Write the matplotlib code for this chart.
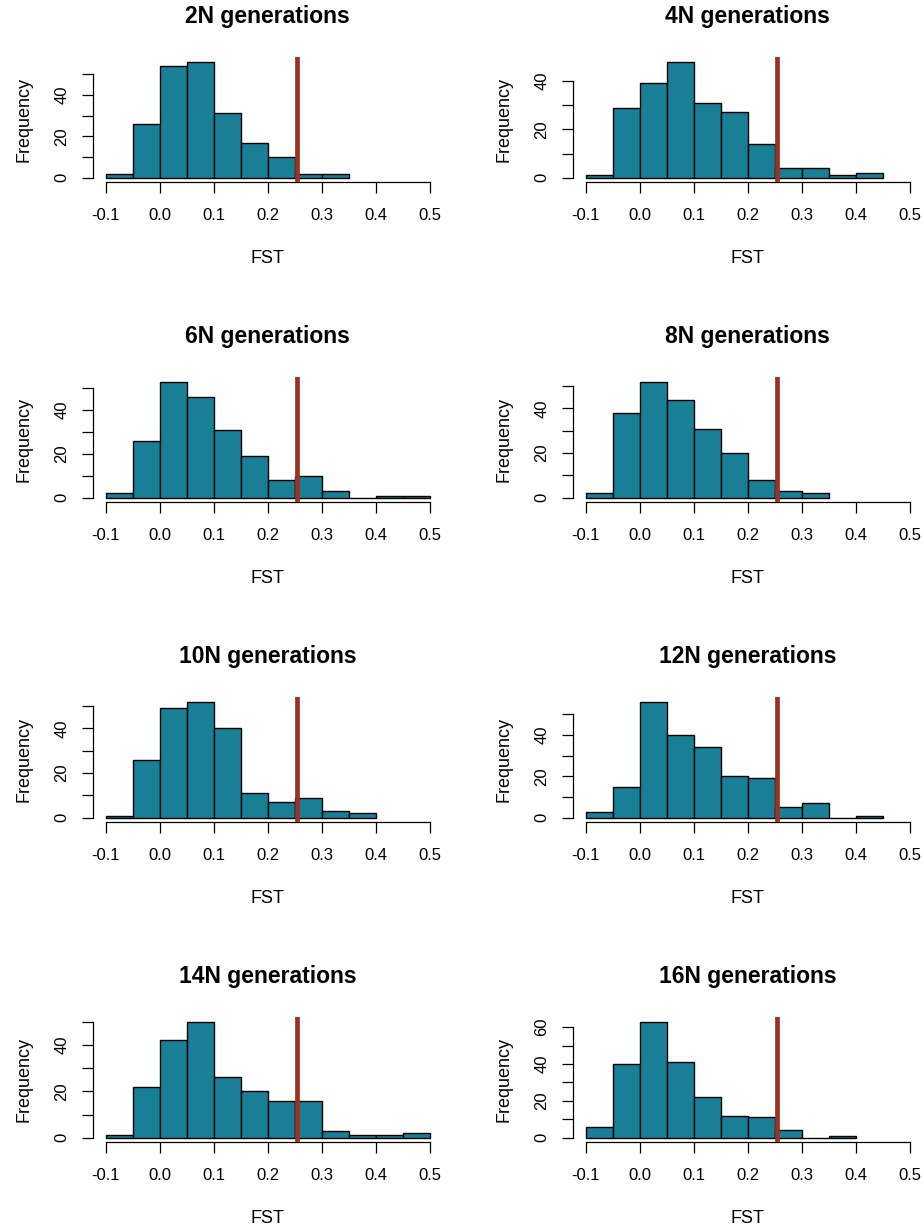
import matplotlib
matplotlib.use("Agg")
import matplotlib.pyplot as plt
import numpy as np
from matplotlib.ticker import MultipleLocator, FuncFormatter

plt.rcParams['font.family'] = ['Liberation Sans', 'DejaVu Sans']

# Histogram counts per panel, bins of width 0.05 starting at -0.1
titles = ["2N generations", "4N generations", "6N generations", "8N generations",
          "10N generations", "12N generations", "14N generations", "16N generations"]
counts_2N = [2, 26, 54, 56, 31, 17, 10, 2, 2]
counts_4N = [1, 29, 39, 48, 31, 27, 14, 4, 4, 1, 2]
counts_6N = [2, 26, 53, 46, 31, 19, 8, 10, 3, 0, 1, 1]
counts_8N = [2, 38, 52, 44, 31, 20, 8, 3, 2]
counts_10N = [1, 26, 49, 52, 40, 11, 7, 9, 3, 2]
counts_12N = [3, 15, 56, 40, 34, 20, 19, 5, 7, 0, 1]
counts_14N = [1, 22, 42, 50, 26, 20, 16, 16, 3, 1, 1, 2]
counts_16N = [6, 40, 63, 41, 22, 12, 11, 4, 0, 1]
all_counts = [counts_2N, counts_4N, counts_6N, counts_8N,
              counts_10N, counts_12N, counts_14N, counts_16N]

bin_start = -0.1
bin_width = 0.05
x_ticks = [-0.1, 0.0, 0.1, 0.2, 0.3, 0.4, 0.5]
observed_fst = 0.255

bar_color = "#187F97"
line_color = "#9A3324"

W, H = 924, 1230
fig = plt.figure(figsize=(W / 100, H / 100), dpi=100)

col_left = [92.7, 572.7]
ax_w = 349.8
row_top0 = 57.0
row_step = 320.0
ax_h = 125.4

for i, (title, counts) in enumerate(zip(titles, all_counts)):
    r, c = divmod(i, 2)
    left = col_left[c]
    top = row_top0 + r * row_step
    ax = fig.add_axes([left / W, 1 - (top + ax_h) / H, ax_w / W, ax_h / H])

    counts = np.array(counts)
    edges = bin_start + bin_width * np.arange(len(counts))
    ax.bar(edges, counts, width=bin_width, align='edge', color=bar_color,
           edgecolor='black', linewidth=1.0, zorder=2)
    ax.axvline(observed_fst, color=line_color, linewidth=3.4, zorder=3)

    cmax = counts.max()
    ax.set_xlim(-0.124, 0.524)
    ax.set_ylim(-0.04 * cmax, 1.04 * cmax)

    top_tick = (cmax // 10) * 10
    ax.set_xticks(x_ticks)
    ax.set_xticklabels([f"{v:.1f}" for v in x_ticks])
    ax.yaxis.set_major_locator(MultipleLocator(10))
    ax.yaxis.set_major_formatter(FuncFormatter(
        lambda v, p: f"{int(round(v))}" if int(round(v)) % 20 == 0 else ""))
    ax.set_yticks(np.arange(0, top_tick + 1, 10))

    for side in ['top', 'right']:
        ax.spines[side].set_visible(False)
    ax.spines['bottom'].set_bounds(-0.1, 0.5)
    ax.spines['left'].set_bounds(0, top_tick)
    ax.spines['bottom'].set_linewidth(0.9)
    ax.spines['left'].set_linewidth(0.9)

    ax.tick_params(axis='both', length=7.7, width=0.9, labelsize=12)
    ax.tick_params(axis='x', pad=11)
    ax.tick_params(axis='y', pad=9, labelrotation=90)
    for lab in ax.get_yticklabels():
        lab.set_va('center')

    ax.text(0.5, 1.275, title, transform=ax.transAxes, ha='center',
            va='baseline', fontsize=16.5, fontweight='bold')
    ax.text(0.5, -0.641, "FST", transform=ax.transAxes, ha='center',
            va='baseline', fontsize=13)
    ax.text(-69 / ax_w, 0.5, "Frequency", transform=ax.transAxes, ha='center',
            va='center', rotation=90, fontsize=13)

fig.savefig("out.png", dpi=100)
